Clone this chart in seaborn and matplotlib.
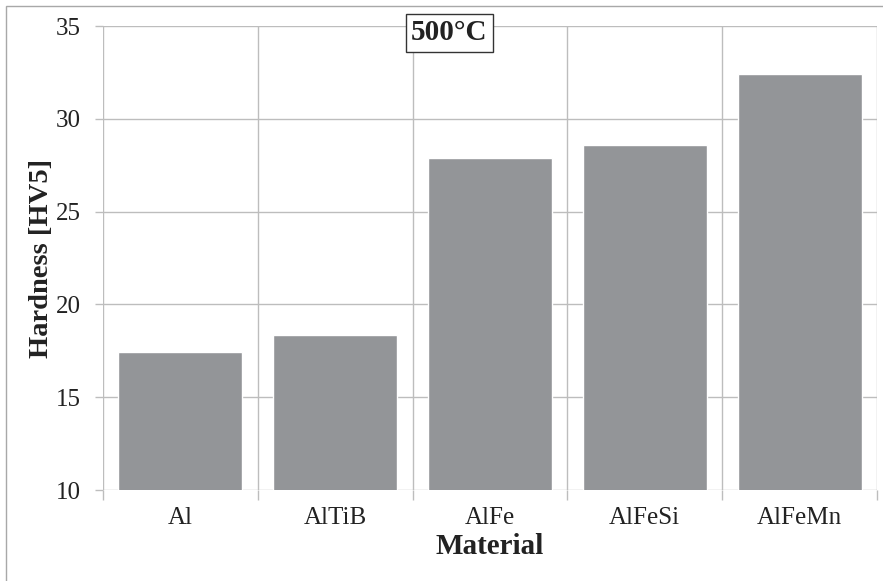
import matplotlib
matplotlib.use("Agg")
import matplotlib.pyplot as plt
import seaborn as sns
import pandas as pd
from matplotlib.patches import Rectangle

# data
materials = ["Al", "AlTiB", "AlFe", "AlFeSi", "AlFeMn"]
hardness = [17.45, 18.35, 27.9, 28.6, 32.4]
y_ticks = [10, 15, 20, 25, 30, 35]

df = pd.DataFrame({"Material": materials, "Hardness": hardness})

sns.set_style("white")
plt.rcParams["font.family"] = ["Liberation Serif", "DejaVu Serif"]

fig = plt.figure(figsize=(8.83, 5.81), dpi=100)
ax = fig.add_axes([103 / 883, 1 - 490 / 581, (877 - 103) / 883, (490 - 26) / 581])

sns.barplot(data=df, x="Material", y="Hardness", color="#939598",
            saturation=1, width=0.8, ax=ax, zorder=3)

grid_c = "#BDBDBD"
ax.set_ylim(10, 35)
ax.set_xlim(-0.5, len(materials) - 0.5)
ax.set_yticks(y_ticks)
ax.set_yticklabels([str(t) for t in y_ticks], fontsize=18, color="#222222")
ax.set_xticks(range(len(materials)))
ax.set_xticklabels(materials, fontsize=18, color="#222222")
ax.set_xticks([b - 0.5 for b in range(len(materials) + 1)], minor=True)
ax.tick_params(axis="x", which="major", length=0, pad=12)
ax.tick_params(axis="x", which="minor", length=7, color=grid_c, width=1)
ax.tick_params(axis="y", length=6, color=grid_c, width=1, pad=10)
ax.yaxis.set_ticks_position("left")
ax.xaxis.set_ticks_position("bottom")

# gridlines: horizontal at y ticks, vertical between categories
ax.grid(axis="y", color=grid_c, lw=1, zorder=1)
ax.grid(axis="x", which="minor", color=grid_c, lw=1, zorder=1)
ax.set_axisbelow(True)

for s in ax.spines.values():
    s.set_visible(False)

ax.set_xlabel("Material", fontsize=21, fontweight="bold", labelpad=3,
              color="#222222")
ax.set_ylabel("Hardness [HV5]", fontsize=20.5, fontweight="bold", labelpad=1,
              color="#222222")

ax.text((449 - 103) / 774, (490 - 33) / 464, "500°C", transform=ax.transAxes,
        ha="center", va="center", fontsize=21, fontweight="bold", zorder=5,
        color="#222222",
        bbox=dict(boxstyle="square,pad=0.18", fc="white", ec="#333333", lw=1))

# chart area border (only top/left visible in the crop)
fig.patches.append(Rectangle((6 / 883, -0.1), 1.2, 1.1 - 6 / 581,
                             transform=fig.transFigure, fill=False,
                             ec="#A8A8A8", lw=1))

fig.savefig("out.png", dpi=100)
